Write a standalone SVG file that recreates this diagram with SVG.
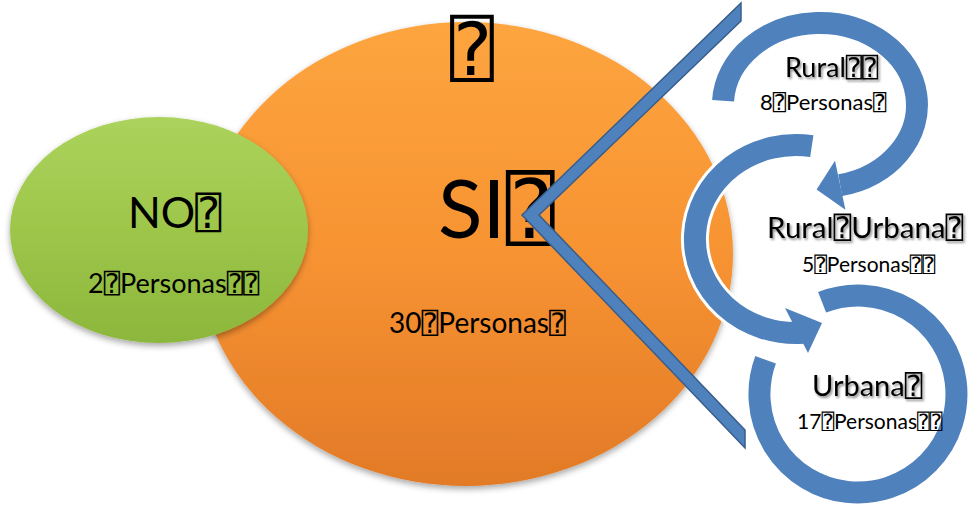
<svg xmlns="http://www.w3.org/2000/svg" width="969" height="506" viewBox="0 0 969 506">
<defs>
<linearGradient id="gOr" x1="0" y1="0" x2="0" y2="1">
<stop offset="0" stop-color="#FDA53F"/>
<stop offset="0.5" stop-color="#F79332"/>
<stop offset="1" stop-color="#E27A27"/>
</linearGradient>
<linearGradient id="gGr" x1="0" y1="0" x2="0" y2="1">
<stop offset="0" stop-color="#ABD35C"/>
<stop offset="0.5" stop-color="#9DC64A"/>
<stop offset="1" stop-color="#8CB73C"/>
</linearGradient>
<filter id="sh" x="-10%" y="-10%" width="120%" height="125%">
<feDropShadow dx="0" dy="3" stdDeviation="3" flood-color="#000" flood-opacity="0.35"/>
</filter>
<filter id="ts" x="-10%" y="-30%" width="130%" height="180%">
<feDropShadow dx="1.5" dy="2" stdDeviation="1.2" flood-color="#000" flood-opacity="0.45"/>
</filter>
</defs>
<style>
text{font-family:Lato,"Liberation Sans",sans-serif;fill:#000}
.t{font-family:"DejaVu Sans Mono","DejaVu Sans",monospace}
.ring{fill:none;stroke:#4F81BD;stroke-width:22}
.ringw{fill:none;stroke:#fff;stroke-width:28}
.head{fill:#4F81BD}
.headw{fill:#fff;stroke:#fff;stroke-width:6;stroke-linejoin:round}
.lbl{filter:url(#ts)}
</style>

<g id="si">
<ellipse cx="466" cy="254" rx="267" ry="232" fill="url(#gOr)" filter="url(#sh)"/>
<text x="450" y="75" font-size="73" class="t">⍰</text>
<text x="438" y="238" font-size="82">SI<tspan class="t">⍰</tspan></text>
<text x="389" y="333" font-size="28">30<tspan class="t">⍰</tspan>Personas<tspan class="t">⍰</tspan></text>
</g>

<g id="no">
<ellipse cx="159" cy="230" rx="149" ry="113" fill="url(#gGr)" filter="url(#sh)"/>
<text x="128" y="228" font-size="43">NO<tspan class="t">⍰</tspan></text>
<text x="88" y="293" font-size="27">2<tspan class="t">⍰</tspan>Personas<tspan class="t">⍰⍰</tspan></text>
</g>

<g id="connectors">
<polygon points="741,3 741,21 539,215 745,430 745,448 522,215" fill="#4F81BD" stroke="#385D8A" stroke-width="1.5" stroke-linejoin="miter"/>
</g>

<g id="rural">
<path class="ringw" d="M 723.1 100.7 A 97 82 0 1 1 840.2 185.2"/>
<polygon class="headw" points="835,160.8 816.6,189.4 845.4,209.7"/>
<path class="ring" d="M 723.1 100.7 A 97 82 0 1 1 840.2 185.2"/>
<polygon class="head" points="835,160.8 816.6,189.4 845.4,209.7"/>
<text class="lbl" x="785" y="77" font-size="27">Rural<tspan class="t">⍰⍰</tspan></text>
<text x="760" y="110" font-size="22">8<tspan class="t">⍰</tspan>Personas<tspan class="t">⍰</tspan></text>
</g>

<g id="rural-urbana">
<path class="ringw" d="M 811.8 146.2 A 101 94 0 1 0 803 332.8"/>
<polygon class="headw" points="785,308 822,323 808,353"/>
<path class="ring" d="M 811.8 146.2 A 101 94 0 1 0 803 332.8"/>
<polygon class="head" points="785,308 822,323 808,353"/>
<text class="lbl" x="767" y="238" font-size="29.5">Rural<tspan class="t">⍰</tspan>Urbana<tspan class="t">⍰</tspan></text>
<text x="802" y="272" font-size="21">5<tspan class="t">⍰</tspan>Personas<tspan class="t">⍰⍰</tspan></text>
</g>

<g id="urbana">
<path class="ringw" d="M 822.1 302.3 A 98.5 98.5 0 1 1 765.6 359.8"/>
<path class="ring" d="M 822.1 302.3 A 98.5 98.5 0 1 1 765.6 359.8"/>
<text class="lbl" x="812" y="396" font-size="29">Urbana<tspan class="t">⍰</tspan></text>
<text x="797" y="429" font-size="21">17<tspan class="t">⍰</tspan>Personas<tspan class="t">⍰⍰</tspan></text>
</g>
</svg>
